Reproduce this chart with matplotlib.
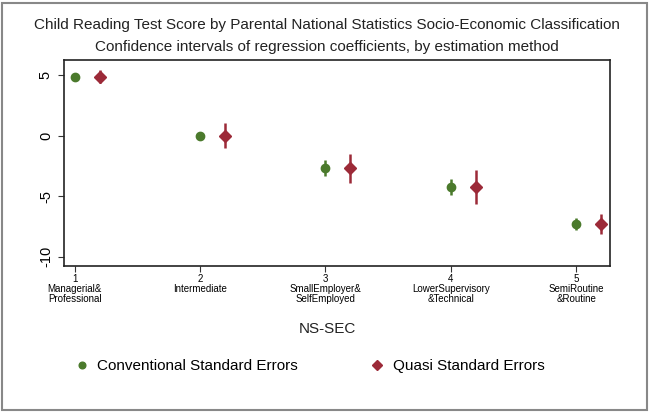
import numpy as np
import matplotlib
matplotlib.use('Agg')
import matplotlib.pyplot as plt
from matplotlib.patches import Rectangle

plt.rcParams['font.family'] = ['Liberation Sans', 'DejaVu Sans']

# NS-SEC categories and coefficients
codes = [1, 2, 3, 4, 5]
labels = ['Managerial&\nProfessional', 'Intermediate', 'SmallEmployer&\nSelfEmployed',
          'LowerSupervisory\n&Technical', 'SemiRoutine\n&Routine']
coef = [4.83, 0.0, -2.65, -4.25, -7.27]

# conventional standard errors (lower / upper CI)
conv_lo = [4.5, 0.0, -3.3, -4.93, -7.83]
conv_hi = [5.15, 0.0, -2.04, -3.55, -6.78]

# quasi standard errors (lower / upper CI)
quasi_lo = [4.3, -1.02, -3.92, -5.68, -8.1]
quasi_hi = [5.4, 1.07, -1.49, -2.87, -6.5]

green = '#4b7a2c'
red = '#9c2a38'

fig = plt.figure(figsize=(6.54, 4.12), dpi=100)
ax = fig.add_axes([64 / 654, 1 - 266 / 412, (610 - 64) / 654, (266 - 60) / 412])

x = np.array(codes, dtype=float)
xq = x + 0.2
coef = np.array(coef)

ax.vlines(x, conv_lo, conv_hi, color=green, lw=1.8)
ax.plot(x, coef, 'o', color=green, ms=6, label='Conventional Standard Errors')
ax.vlines(xq, quasi_lo, quasi_hi, color=red, lw=1.8)
ax.plot(xq, coef, 'D', color=red, ms=6.5, label='Quasi Standard Errors')

ax.set_xlim(0.915, 5.27)
ax.set_ylim(-10.77, 6.24)
ax.set_yticks([5, 0, -5, -10])
ax.set_yticklabels(['5', '0', '-5', '-10'], rotation=90, va='center', fontsize=10.5)
ax.set_xticks(codes)
ax.set_xticklabels([f'{c}\n{l}' for c, l in zip(codes, labels)], fontsize=7, linespacing=1.0)
ax.tick_params(axis='both', length=4, width=0.8, color='#333333')
ax.tick_params(axis='y', pad=4)
ax.tick_params(axis='x', pad=2)
for s in ax.spines.values():
    s.set_linewidth(1.2)
    s.set_color('#222222')

fig.text(0.5, 1 - 25 / 412, 'Child Reading Test Score by Parental National Statistics Socio-Economic Classification',
         ha='center', va='center', fontsize=11, color='#222222')
fig.text(0.5, 1 - 47 / 412, 'Confidence intervals of regression coefficients, by estimation method',
         ha='center', va='center', fontsize=11, color='#222222')
fig.text(0.5, 1 - 329 / 412, 'NS-SEC', ha='center', va='center', fontsize=11, color='#222222')

h, l = ax.get_legend_handles_labels()
fig.legend(h, l, loc='center', bbox_to_anchor=(0.472, 1 - 366 / 412), ncol=2, frameon=False,
           fontsize=11, handletextpad=0.4, columnspacing=4.6, handlelength=1.2, markerscale=0.8)

fig.patches.append(Rectangle((2 / 654, 2 / 412), 645 / 654, 407 / 412, transform=fig.transFigure,
                             fill=False, edgecolor='#888888', lw=1.5))

fig.savefig('out.png', dpi=100)
